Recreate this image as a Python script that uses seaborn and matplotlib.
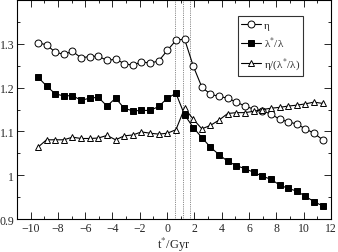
import matplotlib
matplotlib.use("Agg")
import matplotlib.pyplot as plt
import seaborn as sns
import numpy as np
from matplotlib.ticker import MultipleLocator

t_gyr = [-9.46, -8.83, -8.20, -7.56, -6.93, -6.30, -5.67, -5.04, -4.40, -3.77,
         -3.14, -2.51, -1.88, -1.24, -0.61, 0.02, 0.65, 1.28, 1.92, 2.55,
         3.18, 3.81, 4.44, 5.08, 5.71, 6.34, 6.97, 7.60, 8.24, 8.87,
         9.50, 10.13, 10.76, 11.40]
eta = [1.302, 1.298, 1.281, 1.276, 1.283, 1.268, 1.271, 1.272, 1.262, 1.265,
       1.255, 1.251, 1.259, 1.256, 1.261, 1.285, 1.308, 1.311, 1.249, 1.201,
       1.185, 1.180, 1.176, 1.167, 1.158, 1.151, 1.147, 1.140, 1.128, 1.122,
       1.117, 1.106, 1.096, 1.081]
lam_ratio = [1.224, 1.204, 1.186, 1.181, 1.182, 1.171, 1.176, 1.178, 1.158, 1.176,
             1.153, 1.147, 1.148, 1.148, 1.157, 1.176, 1.187, 1.138, 1.109, 1.086,
             1.064, 1.047, 1.032, 1.022, 1.015, 1.007, 0.998, 0.991, 0.978, 0.970,
             0.964, 0.952, 0.940, 0.930]
eta_over_lam = [1.064, 1.081, 1.081, 1.081, 1.087, 1.084, 1.084, 1.085, 1.091, 1.081,
                1.090, 1.092, 1.099, 1.096, 1.094, 1.096, 1.104, 1.153, 1.128, 1.106,
                1.114, 1.126, 1.141, 1.143, 1.143, 1.146, 1.150, 1.153, 1.155, 1.158,
                1.160, 1.163, 1.167, 1.164]
vlines_x = [0.60, 1.13, 1.71]
labels = ["η", "λ$^{*}$/λ", "η/(λ$^{*}$/λ)"]

sns.set_style("ticks")
plt.rcParams['font.family'] = ['Liberation Serif', 'DejaVu Serif']
plt.rcParams['mathtext.fontset'] = 'stix'

fig = plt.figure(figsize=(3.38, 2.53), dpi=100)
ax = fig.add_axes([0.050, 0.130, 0.929, 0.866])

for xv in vlines_x:
    ax.axvline(xv, color='0.4', lw=0.6, ls=(0, (1, 1.2)), zorder=1)

common = dict(color='black', lw=0.8, ax=ax, zorder=3)
sns.lineplot(x=t_gyr, y=eta, marker='o', markersize=5, markerfacecolor='white',
             markeredgecolor='black', markeredgewidth=0.7, label=labels[0], **common)
sns.lineplot(x=t_gyr, y=lam_ratio, marker='s', markersize=4.5, markerfacecolor='black',
             markeredgecolor='black', markeredgewidth=0.7, label=labels[1], **common)
sns.lineplot(x=t_gyr, y=eta_over_lam, marker='^', markersize=5, markerfacecolor='white',
             markeredgecolor='black', markeredgewidth=0.7, label=labels[2], **common)

ax.set_xlim(-11, 12)
ax.set_ylim(0.9, 1.4)
ax.xaxis.set_major_locator(MultipleLocator(2))
ax.xaxis.set_minor_locator(MultipleLocator(1))
ax.yaxis.set_major_locator(MultipleLocator(0.1))
ax.yaxis.set_minor_locator(MultipleLocator(0.05))
ax.set_yticks([0.9, 1.0, 1.1, 1.2, 1.3])
ax.set_yticklabels(["0.9", "1", "1.1", "1.2", "1.3"])
ax.tick_params(which='both', direction='in', top=True, right=True, width=0.7,
               labelsize=8.5, pad=2)
ax.tick_params(which='major', length=5)
ax.tick_params(which='minor', length=2.5)
for s in ax.spines.values():
    s.set_linewidth(0.8)
    s.set_color('black')

ax.set_xlabel(r"t$^{*}$/Gyr", fontsize=9, labelpad=1)
ax.set_ylabel("")

leg = ax.legend(loc='upper left', bbox_to_anchor=(0.703, 0.925), frameon=True,
                fancybox=False, edgecolor='black', fontsize=8, handlelength=1.8,
                borderpad=0.3, labelspacing=0.5, handletextpad=0.25, borderaxespad=0)
leg.get_frame().set_linewidth(0.8)

fig.savefig("out.png", dpi=100)
